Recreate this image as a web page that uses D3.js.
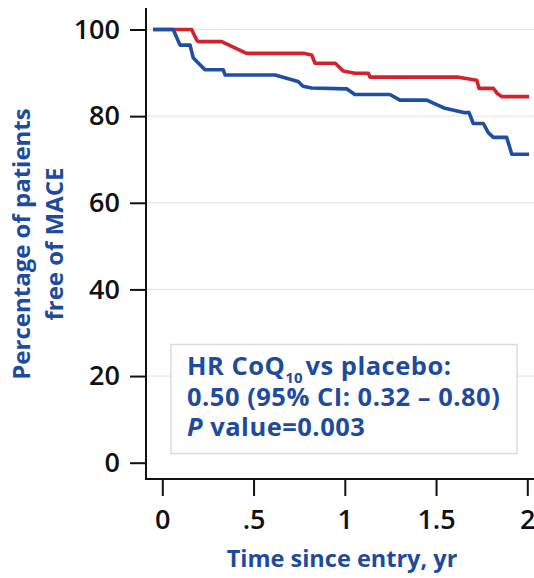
<!DOCTYPE html>
<html>
<head>
<meta charset="utf-8">
<script src="https://cdn.jsdelivr.net/npm/d3@7/dist/d3.min.js"></script>
<style>
    body { margin: 0; background: #fff; }
    #chart text { font-family: "Open Sans", Lato, sans-serif; }
</style>
</head>
<body>
<div id="chart"></div>
<script>
// Kaplan-Meier style curves (time in years, % free of MACE)
const coqTime = [-0.05, 0.161, 0.188, 0.196, 0.325, 0.462, 0.773, 0.819, 0.837, 0.948, 0.992, 1.055, 1.129, 1.138, 1.622, 1.723, 1.736, 1.814, 1.834, 1.860, 2.01];
const coqPct  = [100, 100, 97.6, 97.2, 97.2, 94.5, 94.5, 94.1, 92.2, 92.2, 90.4, 89.9, 89.9, 89.0, 89.0, 88.3, 86.4, 86.4, 85.3, 84.5, 84.5];

const placeboTime = [-0.05, 0.060, 0.097, 0.152, 0.170, 0.234, 0.334, 0.344, 0.618, 0.744, 0.771, 0.819, 1.010, 1.055, 1.247, 1.302, 1.449, 1.549, 1.658, 1.681, 1.704, 1.759, 1.786, 1.814, 1.887, 1.915, 2.01];
const placeboPct  = [100, 100, 96.4, 96.4, 93.4, 90.7, 90.7, 89.5, 89.5, 88.0, 86.9, 86.5, 86.3, 85.0, 85.0, 83.7, 83.7, 81.8, 80.8, 80.8, 78.3, 78.3, 76.2, 75.1, 75.1, 71.2, 71.2];

const yTicks = [0, 20, 40, 60, 80, 100];
const xTicks = [0, 0.5, 1, 1.5, 2];
const xTickLabels = ["0", ".5", "1", "1.5", "2"];

const yTitle = ["Percentage of patients", "free of MACE"];
const xTitle = "Time since entry, yr";

const blue = "#1f4ea3";
const red = "#d1232f";
const textBlue = "#1e4b9e";

document.addEventListener('DOMContentLoaded', function() {
    drawChart();
});

function drawChart() {
    const svg = d3.select('#chart')
        .append('svg')
        .attr('width', 534)
        .attr('height', 578);

    // Scales
    const x = d3.scaleLinear().domain([0, 2]).range([162.3, 527.3]);
    const y = d3.scaleLinear().domain([0, 100]).range([462.7, 29.5]);

    // Light gridlines
    svg.append('g')
        .selectAll('line')
        .data(yTicks.filter(d => d > 0))
        .enter()
        .append('line')
        .attr('x1', 147)
        .attr('x2', 534)
        .attr('y1', d => y(d))
        .attr('y2', d => y(d))
        .attr('stroke', '#e2e2e2')
        .attr('stroke-width', 1);

    // Y axis
    const yAxis = svg.append('g')
        .attr('transform', 'translate(146,0)')
        .call(d3.axisLeft(y).tickValues(yTicks).tickSize(16).tickPadding(10).tickSizeOuter(0));
    yAxis.select('.domain').remove();
    yAxis.selectAll('line').attr('stroke', '#111').attr('stroke-width', 2);
    yAxis.selectAll('text')
        .attr('fill', '#111')
        .style('font-size', '27px')
        .style('font-weight', 600);

    svg.append('line')
        .attr('x1', 146).attr('x2', 146)
        .attr('y1', 8).attr('y2', 480)
        .attr('stroke', '#111').attr('stroke-width', 2);

    // X axis
    const xAxis = svg.append('g')
        .attr('transform', 'translate(0,480)')
        .call(d3.axisBottom(x).tickValues(xTicks).tickFormat((d, i) => xTickLabels[i]).tickSize(16).tickPadding(14).tickSizeOuter(0));
    xAxis.select('.domain').remove();
    xAxis.selectAll('line').attr('stroke', '#111').attr('stroke-width', 2);
    xAxis.selectAll('text')
        .attr('fill', '#111')
        .style('font-size', '27px')
        .style('font-weight', 600);

    svg.append('line')
        .attr('x1', 145).attr('x2', 534)
        .attr('y1', 479).attr('y2', 479)
        .attr('stroke', '#111').attr('stroke-width', 2);

    // Curves
    const line = d3.line()
        .x(d => x(d[0]))
        .y(d => y(d[1]));

    const series = [
        { color: red, pts: d3.zip(coqTime, coqPct) },
        { color: blue, pts: d3.zip(placeboTime, placeboPct) }
    ];

    svg.selectAll('.curve')
        .data(series)
        .enter()
        .append('path')
        .attr('class', 'curve')
        .attr('d', d => line(d.pts))
        .attr('fill', 'none')
        .attr('stroke', d => d.color)
        .attr('stroke-width', 3.6)
        .attr('stroke-linejoin', 'round');

    // Axis titles
    svg.append('text')
        .attr('transform', 'translate(29.5,244) rotate(-90)')
        .attr('text-anchor', 'middle')
        .attr('fill', textBlue)
        .style('font-size', '24px')
        .style('font-weight', 700)
        .selectAll('tspan')
        .data(yTitle)
        .enter()
        .append('tspan')
        .attr('x', 0)
        .attr('dy', (d, i) => i === 0 ? 0 : 33)
        .text(d => d);

    svg.append('text')
        .attr('x', 342)
        .attr('y', 567)
        .attr('text-anchor', 'middle')
        .attr('fill', textBlue)
        .style('font-size', '23.5px')
        .style('font-weight', 700)
        .text(xTitle);

    // Hazard ratio box
    svg.append('rect')
        .attr('x', 171)
        .attr('y', 344.5)
        .attr('width', 346)
        .attr('height', 109)
        .attr('fill', '#fff')
        .attr('stroke', '#dcdcdc')
        .attr('stroke-width', 1.5);

    const note = svg.append('g')
        .attr('fill', textBlue)
        .style('font-size', '25.5px')
        .style('font-weight', 700)
        .style('letter-spacing', '0.5px');

    const l1 = note.append('text').attr('x', 187).attr('y', 375);
    l1.append('tspan').text('HR CoQ');
    l1.append('tspan').attr('dy', 8).style('font-size', '15px').style('letter-spacing', '0px').text('10');
    l1.append('tspan').attr('dy', -8).attr('dx', 3).text('vs placebo:');

    note.append('text').attr('x', 187).attr('y', 406)
        .text('0.50 (95% CI: 0.32 \u2013 0.80)');

    const l3 = note.append('text').attr('x', 187).attr('y', 436);
    l3.append('tspan').style('font-style', 'italic').text('P');
    l3.append('tspan').text(' value=0.003');
}
</script>
</body>
</html>
